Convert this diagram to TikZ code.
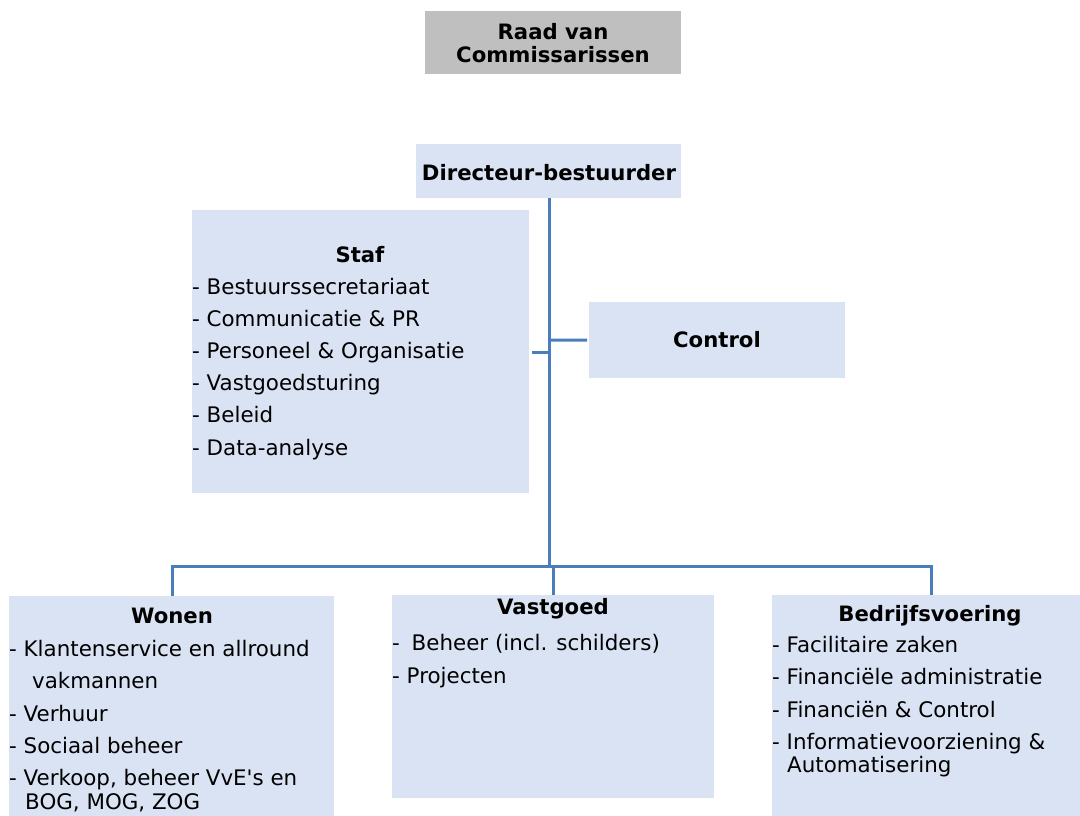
\documentclass[tikz,border=0pt]{standalone}
\usepackage{fontspec}
\setmainfont{DejaVu Sans}
\newfontfamily\plainfont{DejaVu Sans}
\definecolor{boxblue}{RGB}{218,227,243}
\definecolor{boxgray}{RGB}{191,191,191}
\definecolor{linkblue}{RGB}{74,126,187}
\begin{document}
\begin{tikzpicture}[x=1pt,y=-1pt,
  box/.style={draw=none,fill=boxblue,inner sep=0pt,anchor=north west},
  gbox/.style={draw=none,fill=boxgray,inner sep=0pt,anchor=north west},
  txt/.style={inner sep=0pt,anchor=base west,font=\fontsize{21.4}{25}\selectfont},
  ttl/.style={inner sep=0pt,anchor=base,font=\fontsize{21.2}{25}\selectfont\bfseries},
  link/.style={draw=linkblue,line width=3pt}]
\useasboundingbox (0,0) rectangle (1080,815);
% boxes
\node[gbox,minimum width=256pt,minimum height=63pt] (raad) at (425,11) {};
\node[box,minimum width=265pt,minimum height=54pt] (dir) at (416,144) {};
\node[box,minimum width=337pt,minimum height=283pt] (staf) at (192,210) {};
\node[box,minimum width=256pt,minimum height=76pt] (control) at (589,302) {};
\node[box,minimum width=325pt,minimum height=225pt] (wonen) at (9,596) {};
\node[box,minimum width=322pt,minimum height=203pt] (vast) at (392,595) {};
\node[box,minimum width=320pt,minimum height=225pt] (bedr) at (772,595) {};
% connectors
\coordinate (bus) at (549,566);
\coordinate (busL) at (172,566);
\coordinate (busR) at (931,566);
\coordinate (spineS) at (549,352);
\coordinate (spineC) at (549,340);
\draw[link] (dir.south -| bus) -- (bus);
\draw[link] (busL |- wonen.north) -- (busL) -- (busR) -- (busR |- bedr.north);
\draw[link] (vast.north) -- (vast.north |- bus);
\draw[link] ([xshift=3pt]staf.east |- spineS) -- (spineS);
\draw[link] (spineC) -- ([xshift=-2pt]control.west);
% texts
\node[ttl] (traad1) at (553,39) {Raad van};
\node[ttl] (traad2) at (553,62) {Commissarissen};
\node[ttl] (tdir) at (549,180) {Directeur-bestuurder};
\node[ttl] (tstaf) at (360,262) {Staf};
\node[txt] (s1) at (192,294) {- Bestuurssecretariaat};
\node[txt] (s2) at (192,326) {- Communicatie \& PR};
\node[txt] (s3) at (192,358) {- Personeel \& Organisatie};
\node[txt] (s4) at (192,390) {- Vastgoedsturing};
\node[txt] (s5) at (192,422) {- Beleid};
\node[txt] (s6) at (192,455) {- Data-analyse};
\node[ttl] (tcontrol) at (717,347) {Control};
\node[ttl] (twonen) at (172,623) {Wonen};
\node[txt] (w1) at (9,656) {- Klantenservice en allround};
\node[txt] (w2) at (32,688) {vakmannen};
\node[txt] (w3) at (9,721) {- Verhuur};
\node[txt] (w4) at (9,753) {- Sociaal beheer};
\node[txt] (w5) at (9,785) {- Verkoop, beheer VvE{\plainfont'}s en};
\node[txt] (w6) at (25,809) {BOG, MOG, ZOG};
\node[ttl] (tvast) at (553,614) {Vastgoed};
\node[txt] (v1) at (392,650) {-\hspace{0.55em}Beheer (incl. schilders)};
\node[txt] (v2) at (392,683) {- Projecten};
\node[ttl] (tbedr) at (930,621) {Bedrijfsvoering};
\node[txt] (b1) at (772,652) {- Facilitaire zaken};
\node[txt] (b2) at (772,684) {- Financiële administratie};
\node[txt] (b3) at (772,717) {- Financiën \& Control};
\node[txt] (b4) at (772,749) {- Informatievoorziening \&};
\node[txt] (b5) at (787,772) {Automatisering};
\end{tikzpicture}
\end{document}
